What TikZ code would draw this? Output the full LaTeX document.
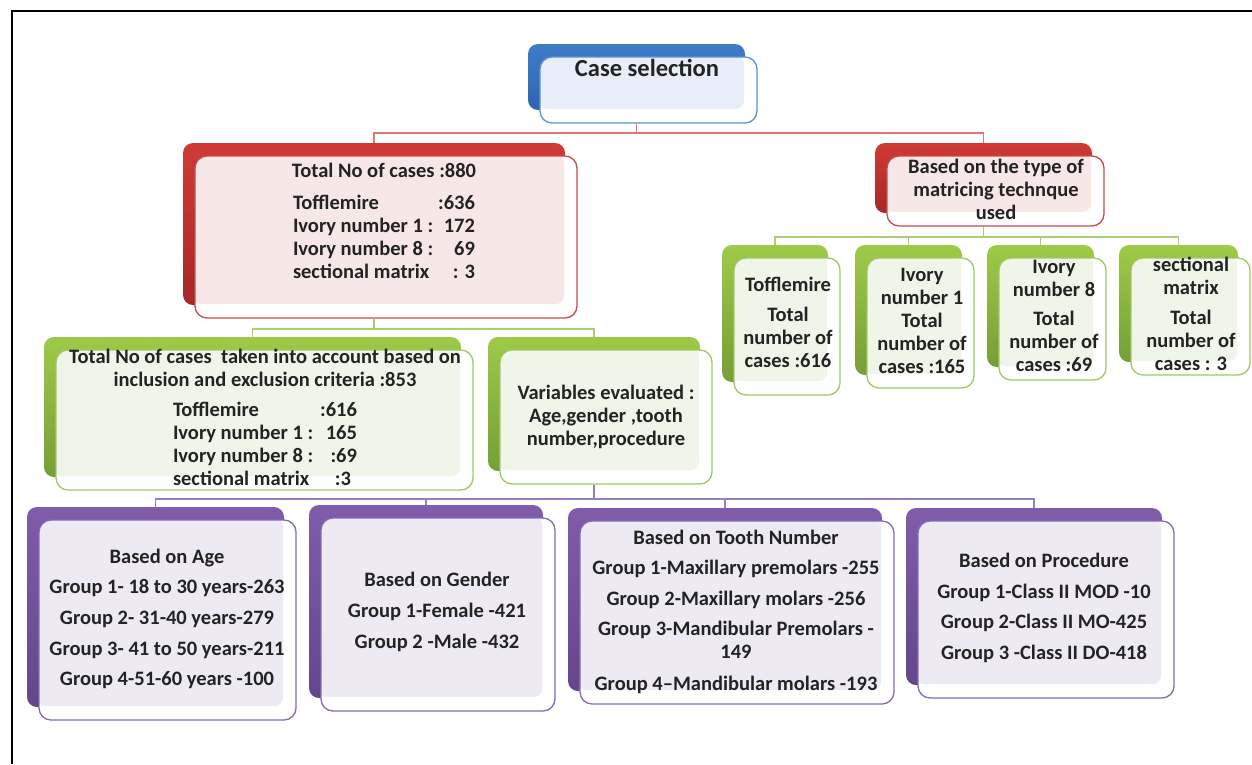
\documentclass[tikz,border=0pt]{standalone}
\usepackage{fontspec}
\setmainfont{Carlito}
\usetikzlibrary{calc}

\definecolor{bluetop}{RGB}{62,125,200}
\definecolor{bluebot}{RGB}{48,100,175}
\definecolor{blueline}{RGB}{95,145,210}
\definecolor{bluetint}{RGB}{231,238,247}
\definecolor{redtop}{RGB}{208,58,54}
\definecolor{redbot}{RGB}{165,40,40}
\definecolor{redline}{RGB}{200,75,75}
\definecolor{redtint}{RGB}{248,231,231}
\definecolor{redconn}{RGB}{218,120,120}
\definecolor{greentop}{RGB}{158,202,72}
\definecolor{greenbot}{RGB}{118,158,55}
\definecolor{greenline}{RGB}{160,200,100}
\definecolor{greentint}{RGB}{240,245,233}
\definecolor{greenconn}{RGB}{170,205,115}
\definecolor{purpletop}{RGB}{128,92,170}
\definecolor{purplebot}{RGB}{100,70,140}
\definecolor{purpleline}{RGB}{135,105,180}
\definecolor{purpletint}{RGB}{237,234,243}
\definecolor{purpleconn}{RGB}{150,125,192}
\definecolor{ink}{RGB}{35,35,35}

\tikzset{
  backbox/.style={rounded corners=10pt, top color=#1top, bottom color=#1bot, draw=none, inner sep=0pt},
  frontbox/.style={rounded corners=12pt, draw=#1line, line width=1.3pt, fill=white, inner sep=0pt},
  txt/.style={font=\fontsize{20.5}{23}\selectfont\bfseries, text=ink, align=center, inner sep=0pt},
  txtb/.style={font=\fontsize{20.5}{30.7}\selectfont\bfseries, text=ink, align=center, inner sep=0pt},
  conn/.style={line width=1.8pt, draw=#1conn},
}

\newcommand\mybox[6]{%
  \node[backbox=#2, minimum width={#5-#3}, minimum height={#6-#4}] (#1b) at ({(#3+#5)/2},{(#4+#6)/2}) {};
  \node[frontbox=#2, minimum width={#5-#3}, minimum height={#6-#4},
    path picture={\fill[#2tint, rounded corners=9pt] ([shift={(-2pt,2pt)}]path picture bounding box.north west) rectangle ([shift={(-1pt,1pt)}]#1b.south east);}]
    (#1) at ({(#3+#5)/2+12},{(#4+#6)/2+13}) {};
}

\begin{document}
\begin{tikzpicture}[x=1pt, y=-1pt]
\useasboundingbox (0,0) rectangle (1252,764);
\fill[white] (0,0) rectangle (1252,764);
\draw[line width=2.5pt] (12,764) -- (12,11) -- (1252,11);

% boxes
\mybox{cs}{blue}{528}{44}{745}{110}
\mybox{tot}{red}{183}{143}{565}{305}
\mybox{typ}{red}{875}{143}{1092}{213}
\mybox{tof}{green}{722}{245}{828}{382}
\mybox{iv1}{green}{855}{245}{962}{375}
\mybox{iv8}{green}{987}{245}{1094}{367}
\mybox{sec}{green}{1119}{245}{1238}{362}
\mybox{inc}{green}{44}{337}{461}{477}
\mybox{var}{green}{488}{337}{700}{471}
\mybox{age}{purple}{27}{507}{284}{707}
\mybox{gen}{purple}{309}{505}{543}{698}
\mybox{too}{purple}{568}{508}{882}{691}
\mybox{pro}{purple}{906}{508}{1162}{685}

% connectors
\coordinate (rj) at ($(csb.south |- cs.south)+(0,9)$);
\draw[conn=red] (csb.south |- cs.south) -- (rj);
\draw[conn=red] (totb.north) |- (rj) -| (typb.north);

\coordinate (gj) at ($(totb.south |- tot.south)+(0,10)$);
\draw[conn=green] (totb.south |- tot.south) -- (gj);
\draw[conn=green] (incb.north) |- (gj) -| (varb.north);

\coordinate (gk) at ($(typb.south |- typ.south)+(0,10)$);
\draw[conn=green] (typb.south |- typ.south) -- (gk);
\draw[conn=green] (tofb.north) |- (gk) -| (secb.north);
\draw[conn=green] (iv1b.north) -- (iv1b.north |- gk);
\draw[conn=green] (iv8b.north) -- (iv8b.north |- gk);

\coordinate (pj) at ($(varb.south |- var.south)+(0,14)$);
\draw[conn=purple] (varb.south |- var.south) -- (pj);
\draw[conn=purple] (ageb.north) |- (pj) -| (prob.north);
\draw[conn=purple] (genb.north) -- (genb.north |- pj);
\draw[conn=purple] (toob.north) -- (toob.north |- pj);

% texts
\node[txt, font=\fontsize{24.5}{28}\selectfont\bfseries] (tcs) at (647,68) {Case selection};
\node[txt] (ttot) at (384,221) {Total No of cases :880\\[9pt]
  \makebox[182pt]{Tofflemire\hfill:636}\\
  \makebox[182pt]{Ivory number 1 :\hfill 172}\\
  \makebox[182pt]{Ivory number 8 :\hfill 69}\\
  \makebox[182pt]{sectional matrix\hfill: 3}};
\node[txt] (ttyp) at (996,189) {Based on the type of\\matricing technque\\used};
\node[txt] (ttof) at (788,322) {Tofflemire\\[7pt]Total\\number of\\cases :616};
\node[txt] (tiv1) at (922,321) {Ivory\\number 1\\Total\\number of\\cases :165};
\node[txt] (tiv8) at (1054,316) {Ivory\\number 8\\[6pt]Total\\number of\\cases :69};
\node[txt] (tsec) at (1191,314) {sectional\\matrix\\[7pt]Total\\number of\\cases : 3};
\node[txt] (tinc) at (265,417) {Total No of cases\ \ taken into account based on\\inclusion and exclusion criteria :853\\[7pt]
  \makebox[184pt]{Tofflemire\hfill:616}\\
  \makebox[184pt]{Ivory number 1 :\hfill 165}\\
  \makebox[184pt]{Ivory number 8 :\hfill :69}\\
  \makebox[184pt]{sectional matrix\hfill :3\hspace{6pt}}};
\node[txt] (tvar) at (606,417) {Variables evaluated :\\Age,gender ,tooth\\number,procedure};
\node[txtb] (tage) at (167,619) {Based on Age\\Group 1- 18 to 30 years-263\\Group 2- 31-40 years-279\\Group 3- 41 to 50 years-211\\Group 4-51-60 years -100};
\node[txtb] (tgen) at (437,612) {Based on Gender\\Group 1-Female -421\\Group 2 -Male -432};
\node[txt] (ttoo) at (736,612) {Based on Tooth Number\\[7.5pt]Group 1-Maxillary premolars -255\\[7.5pt]Group 2-Maxillary molars -256\\[7.5pt]Group 3-Mandibular Premolars -\\149\\[9pt]Group 4--Mandibular molars -193};
\node[txtb] (tpro) at (1044,608) {Based on Procedure\\Group 1-Class II MOD -10\\Group 2-Class II MO-425\\Group 3 -Class II DO-418};
\end{tikzpicture}
\end{document}
